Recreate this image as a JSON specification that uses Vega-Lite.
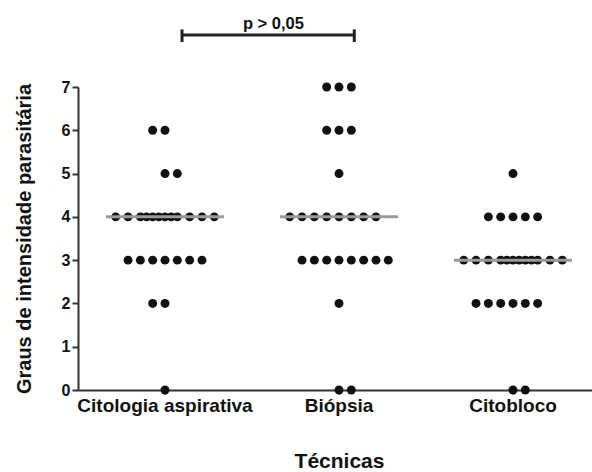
{
  "$schema": "https://vega.github.io/schema/vega-lite/v6.json",
  "width": 522,
  "height": 303,
  "autosize": {"type": "none"},
  "padding": {"left": 78, "top": 87, "right": 0, "bottom": 82},
  "background": "white",
  "config": {"view": {"stroke": null}, "font": "Liberation Sans"},
  "datasets": {
    "pontos": [
      {"t": "Citologia aspirativa", "g": 6, "c": -1},
      {"t": "Citologia aspirativa", "g": 6, "c": 0},
      {"t": "Citologia aspirativa", "g": 5, "c": 0},
      {"t": "Citologia aspirativa", "g": 5, "c": 1},
      {"t": "Citologia aspirativa", "g": 4, "c": -4},
      {"t": "Citologia aspirativa", "g": 4, "c": -3},
      {"t": "Citologia aspirativa", "g": 4, "c": -2},
      {"t": "Citologia aspirativa", "g": 4, "c": -1.5},
      {"t": "Citologia aspirativa", "g": 4, "c": -1},
      {"t": "Citologia aspirativa", "g": 4, "c": -0.5},
      {"t": "Citologia aspirativa", "g": 4, "c": 0},
      {"t": "Citologia aspirativa", "g": 4, "c": 0.5},
      {"t": "Citologia aspirativa", "g": 4, "c": 1},
      {"t": "Citologia aspirativa", "g": 4, "c": 2},
      {"t": "Citologia aspirativa", "g": 4, "c": 3},
      {"t": "Citologia aspirativa", "g": 4, "c": 4},
      {"t": "Citologia aspirativa", "g": 3, "c": -3},
      {"t": "Citologia aspirativa", "g": 3, "c": -2},
      {"t": "Citologia aspirativa", "g": 3, "c": -1},
      {"t": "Citologia aspirativa", "g": 3, "c": 0},
      {"t": "Citologia aspirativa", "g": 3, "c": 1},
      {"t": "Citologia aspirativa", "g": 3, "c": 2},
      {"t": "Citologia aspirativa", "g": 3, "c": 3},
      {"t": "Citologia aspirativa", "g": 2, "c": -1},
      {"t": "Citologia aspirativa", "g": 2, "c": 0},
      {"t": "Citologia aspirativa", "g": 0, "c": 0},
      {"t": "Biópsia", "g": 7, "c": -1},
      {"t": "Biópsia", "g": 7, "c": 0},
      {"t": "Biópsia", "g": 7, "c": 1},
      {"t": "Biópsia", "g": 6, "c": -1},
      {"t": "Biópsia", "g": 6, "c": 0},
      {"t": "Biópsia", "g": 6, "c": 1},
      {"t": "Biópsia", "g": 5, "c": 0},
      {"t": "Biópsia", "g": 4, "c": -4},
      {"t": "Biópsia", "g": 4, "c": -3},
      {"t": "Biópsia", "g": 4, "c": -2},
      {"t": "Biópsia", "g": 4, "c": -1},
      {"t": "Biópsia", "g": 4, "c": 0},
      {"t": "Biópsia", "g": 4, "c": 1},
      {"t": "Biópsia", "g": 4, "c": 2},
      {"t": "Biópsia", "g": 4, "c": 3},
      {"t": "Biópsia", "g": 3, "c": -3},
      {"t": "Biópsia", "g": 3, "c": -2},
      {"t": "Biópsia", "g": 3, "c": -1},
      {"t": "Biópsia", "g": 3, "c": 0},
      {"t": "Biópsia", "g": 3, "c": 1},
      {"t": "Biópsia", "g": 3, "c": 2},
      {"t": "Biópsia", "g": 3, "c": 3},
      {"t": "Biópsia", "g": 3, "c": 4},
      {"t": "Biópsia", "g": 2, "c": 0},
      {"t": "Biópsia", "g": 0, "c": 0},
      {"t": "Biópsia", "g": 0, "c": 1},
      {"t": "Citobloco", "g": 5, "c": 0},
      {"t": "Citobloco", "g": 4, "c": -2},
      {"t": "Citobloco", "g": 4, "c": -1},
      {"t": "Citobloco", "g": 4, "c": 0},
      {"t": "Citobloco", "g": 4, "c": 1},
      {"t": "Citobloco", "g": 4, "c": 2},
      {"t": "Citobloco", "g": 3, "c": -4},
      {"t": "Citobloco", "g": 3, "c": -3},
      {"t": "Citobloco", "g": 3, "c": -2},
      {"t": "Citobloco", "g": 3, "c": -1},
      {"t": "Citobloco", "g": 3, "c": -0.5},
      {"t": "Citobloco", "g": 3, "c": 0},
      {"t": "Citobloco", "g": 3, "c": 0.5},
      {"t": "Citobloco", "g": 3, "c": 1},
      {"t": "Citobloco", "g": 3, "c": 1.5},
      {"t": "Citobloco", "g": 3, "c": 2},
      {"t": "Citobloco", "g": 3, "c": 3},
      {"t": "Citobloco", "g": 3, "c": 4},
      {"t": "Citobloco", "g": 2, "c": -3},
      {"t": "Citobloco", "g": 2, "c": -2},
      {"t": "Citobloco", "g": 2, "c": -1},
      {"t": "Citobloco", "g": 2, "c": 0},
      {"t": "Citobloco", "g": 2, "c": 1},
      {"t": "Citobloco", "g": 2, "c": 2},
      {"t": "Citobloco", "g": 0, "c": 0},
      {"t": "Citobloco", "g": 0, "c": 1}
    ],
    "comparacao": [
      {"de": "Citologia aspirativa", "ate": "Biópsia", "rotulo": "p > 0,05"}
    ]
  },
  "layer": [
    {
      "data": {"name": "pontos"},
      "mark": {"type": "circle", "size": 80, "color": "#111111", "opacity": 1},
      "encoding": {
        "x": {
          "field": "t",
          "type": "nominal",
          "scale": {"domain": ["Citologia aspirativa", "Biópsia", "Citobloco"], "paddingInner": 0, "paddingOuter": 0},
          "axis": {
            "title": "Técnicas",
            "labelAngle": 0,
            "labelFont": "Liberation Sans",
            "labelFontSize": 19,
            "labelFontWeight": "bold",
            "labelColor": "#111111",
            "labelPadding": 2,
            "tickSize": 4,
            "tickWidth": 2,
            "tickColor": "#333333",
            "domainColor": "#333333",
            "domainWidth": 2,
            "titleFont": "Liberation Sans",
            "titleFontSize": 21,
            "titleFontWeight": "bold",
            "titleColor": "#111111",
            "titlePadding": 35,
            "grid": false
          }
        },
        "xOffset": {
          "field": "c",
          "type": "quantitative",
          "scale": {"domain": [-7.06, 7.06], "range": [0, 174]}
        },
        "y": {
          "field": "g",
          "type": "quantitative",
          "scale": {"domain": [0, 7], "nice": false, "zero": true},
          "axis": {
            "title": "Graus de intensidade parasitária",
            "values": [0, 1, 2, 3, 4, 5, 6, 7],
            "labelFont": "Liberation Sans",
            "labelFontSize": 16,
            "labelFontWeight": "bold",
            "labelColor": "#111111",
            "labelPadding": 2,
            "tickSize": 6,
            "tickWidth": 2,
            "tickColor": "#333333",
            "domainColor": "#333333",
            "domainWidth": 2,
            "titleFont": "Liberation Sans",
            "titleFontSize": 20,
            "titleFontWeight": "bold",
            "titleColor": "#111111",
            "titlePadding": 27,
            "grid": false
          }
        }
      }
    },
    {
      "data": {"name": "pontos"},
      "mark": {"type": "tick", "color": "#9a9a9a", "thickness": 3, "size": 118, "opacity": 1},
      "encoding": {
        "x": {"field": "t", "type": "nominal"},
        "y": {"aggregate": "median", "field": "g", "type": "quantitative"}
      }
    },
    {
      "data": {"name": "comparacao"},
      "mark": {"type": "rule", "color": "#222222", "strokeWidth": 3},
      "encoding": {
        "x": {"field": "ate", "type": "nominal"},
        "xOffset": {"datum": 1.24},
        "x2": {"field": "de", "bandPosition": 0.598},
        "y": {"datum": 8.2}
      }
    },
    {
      "data": {"name": "comparacao"},
      "mark": {"type": "rule", "color": "#222222", "strokeWidth": 3},
      "encoding": {
        "x": {"field": "de", "type": "nominal"},
        "xOffset": {"datum": 1.38},
        "y": {"datum": 8.04},
        "y2": {"datum": 8.33}
      }
    },
    {
      "data": {"name": "comparacao"},
      "mark": {"type": "rule", "color": "#222222", "strokeWidth": 3},
      "encoding": {
        "x": {"field": "ate", "type": "nominal"},
        "xOffset": {"datum": 1.24},
        "y": {"datum": 8.04},
        "y2": {"datum": 8.33}
      }
    },
    {
      "data": {"name": "comparacao"},
      "mark": {"type": "text", "color": "#111111", "font": "Liberation Sans", "fontSize": 16.5, "fontWeight": "bold", "baseline": "alphabetic", "align": "center"},
      "encoding": {
        "x": {"field": "de", "type": "nominal"},
        "xOffset": {"datum": 8.8},
        "y": {"datum": 8.34},
        "text": {"field": "rotulo"}
      }
    }
  ]
}
